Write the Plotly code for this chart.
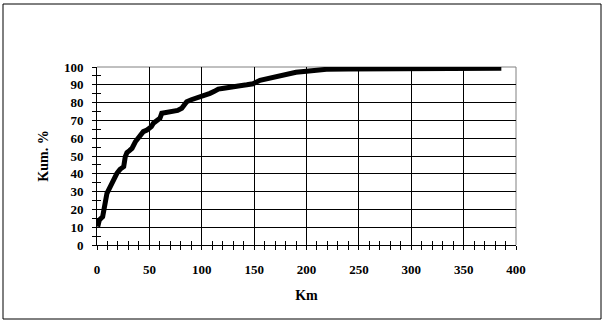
import plotly.graph_objects as go

km = [0.7, 2.2, 5.4, 7.3, 9.5, 12.7, 15.9, 19, 22, 25.5, 27, 28.6, 31, 33.4, 36.6, 41.4, 44.2,
      47.7, 51.9, 53.8, 57, 60.1, 61.8, 66, 72.9, 77, 80.9, 85.6, 90, 96.7, 101, 107.9, 112,
      115.8, 121, 127, 136.5, 143, 149, 155.6, 162, 168, 174.7, 182, 190, 200, 210, 219,
      240, 267, 300, 340, 386]
cum_pct = [10.3, 14, 15.9, 23.4, 29, 32.8, 37.5, 40.3, 42.5, 44, 49.6, 51.9, 53, 54.3, 58, 61.8,
           63.7, 64.6, 66.5, 68.4, 69.5, 71.2, 74, 74.3, 74.9, 75.6, 76.8, 80.5, 81.6, 82.8, 83.6,
           85.2, 86.3, 87.6, 88.1, 88.4, 89.5, 90, 90.6, 92.5, 93.4, 94, 95.3, 96.3, 97, 97.6,
           98.1, 98.7, 98.9, 99, 99.2, 99.3, 99.3]

x_ticks = [0, 50, 100, 150, 200, 250, 300, 350, 400]
y_ticks = [0, 10, 20, 30, 40, 50, 60, 70, 80, 90, 100]

FONT = "Liberation Serif"
L, R, T, B = 97, 89, 67, 82
W, H = 605, 327
pw, ph = W - L - R, H - T - B

fig = go.Figure()
fig.add_trace(go.Scatter(x=km, y=cum_pct, mode="lines",
                         line=dict(color="black", width=5), showlegend=False))

tickfont = dict(family=FONT, size=13, color="black", weight="bold")
fig.update_layout(
    width=W, height=H,
    margin=dict(l=L, r=R, t=T, b=B, pad=0, autoexpand=False),
    paper_bgcolor="white", plot_bgcolor="white",
    font=dict(family=FONT),
    xaxis=dict(range=[0, 400], tickvals=x_ticks, showgrid=True, gridcolor="black", gridwidth=1,
               zeroline=False, showline=True, linecolor="black", linewidth=1, automargin=False,
               ticks="outside", ticklen=4, tickcolor="black", tickfont=tickfont,
               ticklabelstandoff=8,
               minor=dict(dtick=10, ticks="outside", ticklen=4, tickcolor="black", showgrid=False),
               title=dict(text="Km", font=dict(family=FONT, size=14, color="black", weight="bold"),
                          standoff=14)),
    yaxis=dict(range=[0, 100], tickvals=y_ticks, showgrid=True, gridcolor="black", gridwidth=1,
               zeroline=False, showline=True, linecolor="black", linewidth=1, automargin=False,
               ticks="outside", ticklen=4, tickcolor="black", tickfont=tickfont,
               ticklabelstandoff=6,
               minor=dict(dtick=5, ticks="outside", ticklen=4, tickcolor="black", showgrid=False),
               title=dict(text="Kum. %", font=dict(family=FONT, size=14, color="black", weight="bold"),
                          standoff=12)),
    xaxis2=dict(overlaying="x", anchor="y", side="bottom", range=[0, 400], tickvals=x_ticks,
                showticklabels=False, showgrid=False, zeroline=False, showline=False, automargin=False,
                ticks="inside", ticklen=4, tickcolor="black",
                minor=dict(dtick=10, ticks="inside", ticklen=4, tickcolor="black", showgrid=False)),
    yaxis2=dict(overlaying="y", anchor="x", side="left", range=[0, 100], tickvals=y_ticks,
                showticklabels=False, showgrid=False, zeroline=False, showline=False, automargin=False,
                ticks="inside", ticklen=4, tickcolor="black",
                minor=dict(dtick=5, ticks="inside", ticklen=4, tickcolor="black", showgrid=False)),
)

# invisible trace to activate overlay axes
fig.add_trace(go.Scatter(x=[0], y=[0], xaxis="x2", yaxis="y2", mode="markers",
                         marker=dict(opacity=0), showlegend=False, hoverinfo="skip"))

# gray top and right plot border
fig.add_shape(type="line", xref="paper", yref="paper", x0=0, x1=1, y0=1, y1=1,
              line=dict(color="#808080", width=1), layer="between")
fig.add_shape(type="line", xref="paper", yref="paper", x0=1, x1=1, y0=0, y1=1,
              line=dict(color="#808080", width=1), layer="between")

# outer frame
fx0, fx1 = (3 - L) / pw, (601 - L) / pw
fy1, fy0 = (H - B - 4) / ph, (H - B - 319) / ph
fig.add_shape(type="rect", xref="paper", yref="paper", x0=fx0, x1=fx1, y0=fy0, y1=fy1,
              line=dict(color="black", width=1), fillcolor="rgba(0,0,0,0)")

fig.write_html("out.html", config={"displayModeBar": False},
               post_script="document.body.style.margin='0px';document.body.style.overflow='hidden';")
